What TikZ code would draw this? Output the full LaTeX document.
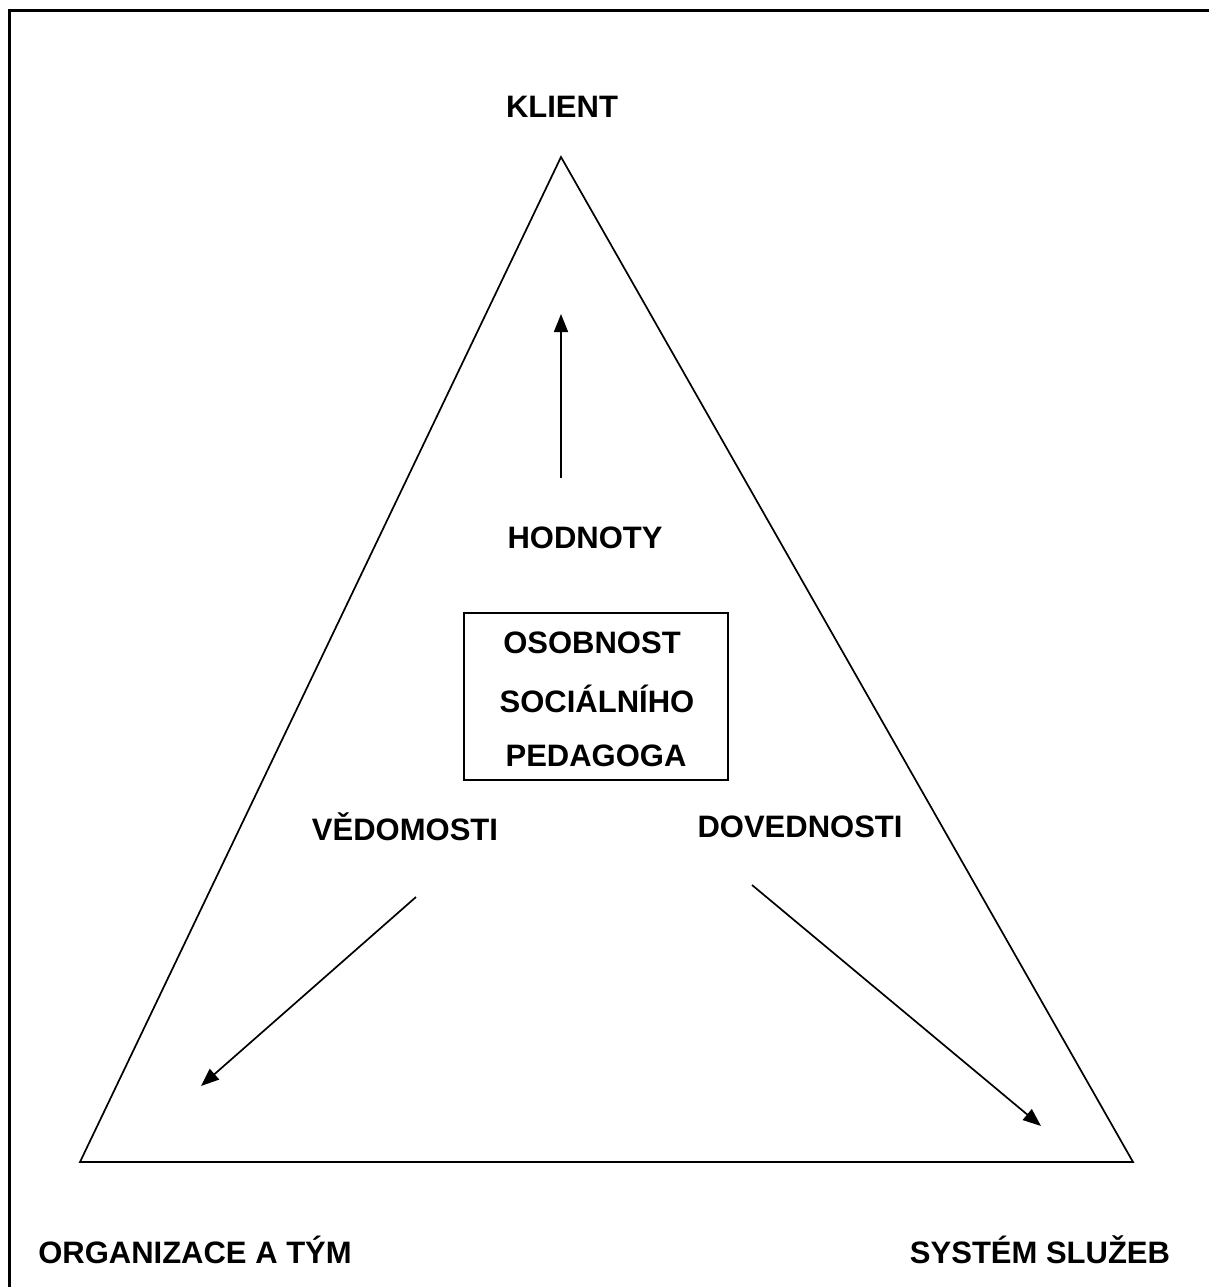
\documentclass[tikz,border=0pt]{standalone}
\usepackage{fontspec}
\setmainfont{Liberation Sans}
\usetikzlibrary{arrows.meta}
\begin{document}
\begin{tikzpicture}[x=1pt,y=-1pt,
  lbl/.style={font=\fontsize{31}{36}\selectfont\bfseries, inner sep=0pt},
  edge/.style={line width=1.7pt},
  arr/.style={line width=1.7pt, -{Triangle[length=18pt,width=14pt]}}]
  \useasboundingbox (0,0) rectangle (1209,1287);
  % page frame (runs past the right and bottom edges)
  \draw[line width=3pt] (9,11) rectangle (1240,1320);
  % triangle
  \coordinate (top) at (561,157);
  \coordinate (bl) at (80,1162);
  \coordinate (br) at (1133,1162);
  \draw[edge, line join=miter] (top) -- (bl) -- (br) -- cycle;
  % labels
  \node[lbl] (klient) at (562,107) {KLIENT};
  \node[lbl] (hodnoty) at (585,538) {HODNOTY};
  \node[lbl] (vedomosti) at (405,827) {VĚDOMOSTI};
  \node[lbl] (dovednosti) at (800,827) {DOVEDNOSTI};
  \node[lbl] (org) at (195,1250) {ORGANIZACE A TÝM};
  \node[lbl] (sys) at (1040,1250) {SYSTÉM SLUŽEB};
  % central box
  \node[draw, line width=1.7pt, minimum width=264pt, minimum height=167pt, inner sep=0pt] (box) at (596,696.5) {};
  \node[lbl] (l1) at (592,643) {OSOBNOST};
  \node[lbl] (l2) at (597,699) {SOCIÁLNÍHO};
  \node[lbl] (l3) at (596,756) {PEDAGOGA};
  % arrows
  \coordinate (a1s) at (561,478);
  \coordinate (a1e) at (561,314);
  \coordinate (a2s) at (416,897);
  \coordinate (a2e) at (201,1086);
  \coordinate (a3s) at (752,885);
  \coordinate (a3e) at (1041,1126);
  \draw[arr] (a1s) -- (a1e);
  \draw[arr] (a2s) -- (a2e);
  \draw[arr] (a3s) -- (a3e);
\end{tikzpicture}
\end{document}
